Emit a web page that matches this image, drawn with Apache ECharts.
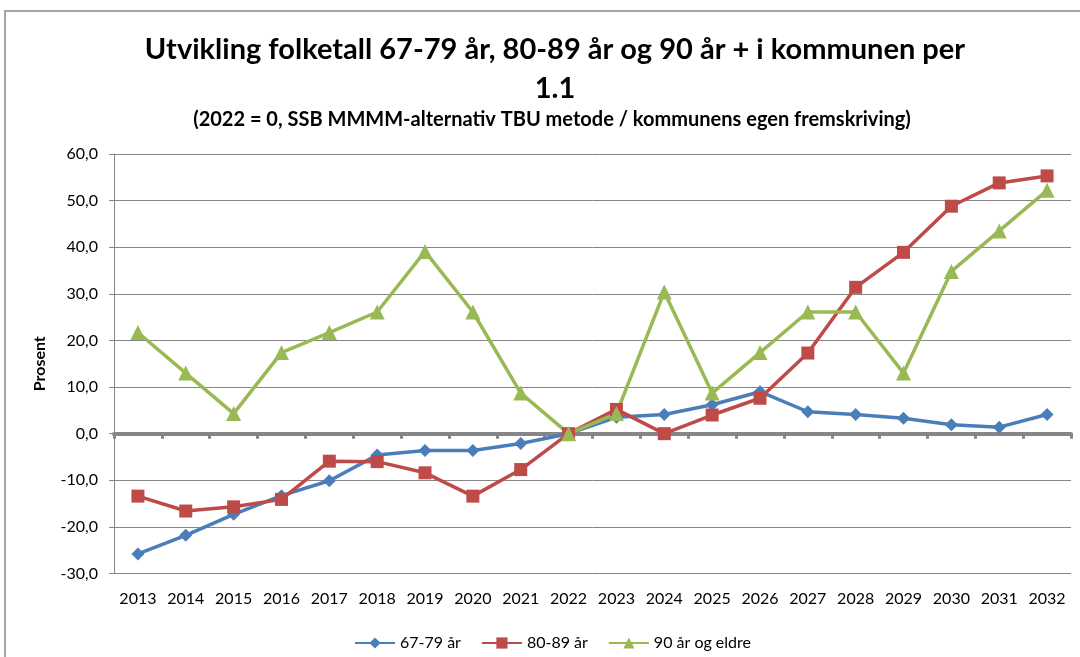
<!DOCTYPE html>
<html>
<head>
<meta charset="utf-8">
<script src="https://cdn.jsdelivr.net/npm/echarts@6/dist/echarts.min.js"></script>
<style>
  html, body { margin: 0; padding: 0; background: #fff; }
  #chart { width: 1080px; height: 657px; }
</style>
</head>
<body>
<div id="chart"></div>
<script>
  // aldersgrupper, endring i prosent (2022 = 0)
  const years = ['2013', '2014', '2015', '2016', '2017', '2018', '2019', '2020', '2021', '2022',
                 '2023', '2024', '2025', '2026', '2027', '2028', '2029', '2030', '2031', '2032']
  const age6779 = [-25.8, -21.8, -17.3, -13.3, -10.1, -4.6, -3.6, -3.6, -2.1, 0,
                   3.5, 4.1, 6.2, 9.0, 4.7, 4.1, 3.3, 1.9, 1.4, 4.1]
  const age8089 = [-13.4, -16.6, -15.7, -14.1, -5.9, -6.0, -8.4, -13.4, -7.7, 0,
                   5.2, 0, 4.0, 7.6, 17.3, 31.4, 38.9, 48.8, 53.8, 55.3]
  const age90 = [21.7, 13.0, 4.3, 17.4, 21.7, 26.1, 39.1, 26.1, 8.7, 0,
                 4.3, 30.4, 8.7, 17.4, 26.1, 26.1, 13.0, 34.8, 43.5, 52.2]

  const font = 'Lato, "Open Sans", sans-serif'
  const gray = '#868686'

  const lineSeries = (name, data, color, symbol, size) => ({
    name: name,
    type: 'line',
    data: data,
    symbol: symbol,
    symbolSize: size,
    color: color,
    lineStyle: { width: 3.5, color: color },
    itemStyle: { color: color },
    emphasis: { disabled: true },
    animation: false
  })

  const chart = echarts.init(document.getElementById('chart'))
  chart.setOption({
    textStyle: { fontFamily: font },
    graphic: [{
      type: 'rect',
      z: -10,
      shape: { x: 5, y: 11, width: 1200, height: 800 },
      style: { fill: 'none', stroke: '#a6a6a6', lineWidth: 2 }
    }],
    title: [
      {
        text: 'Utvikling folketall 67-79 år, 80-89 år og 90 år + i kommunen per\n1.1',
        left: 550, top: 25, textAlign: 'center',
        textStyle: { fontFamily: font, fontWeight: 'bold', fontSize: 29, lineHeight: 39, color: '#000' }
      },
      {
        text: '(2022 = 0, SSB MMMM-alternativ TBU metode / kommunens egen fremskriving)',
        left: 547, top: 105, textAlign: 'center',
        textStyle: { fontFamily: font, fontWeight: 'bold', fontSize: 20, color: '#000' }
      }
    ],
    legend: {
      left: 349, top: 630,
      itemWidth: 40, itemHeight: 14, itemGap: 20,
      textStyle: { fontFamily: font, fontSize: 16, color: '#000' },
      data: ['67-79 år', '80-89 år', '90 år og eldre']
    },
    grid: { left: 114, right: 9, top: 154, bottom: 83.5, containLabel: false },
    xAxis: [
      {
        type: 'category',
        data: years,
        boundaryGap: true,
        position: 'bottom',
        axisLine: { show: false, onZero: false },
        axisTick: { show: false },
        axisLabel: { interval: 0, hideOverlap: false, margin: 17, fontSize: 16, color: '#000', fontFamily: font }
      },
      {
        type: 'category',
        data: years,
        boundaryGap: true,
        position: 'bottom',
        axisLine: { show: true, onZero: true, lineStyle: { color: gray, width: 4 } },
        axisTick: { show: true, inside: false, interval: 0, length: 5, lineStyle: { color: gray, width: 3 } },
        axisLabel: { show: false }
      }
    ],
    yAxis: {
      type: 'value',
      min: -30, max: 60, interval: 10,
      name: 'Prosent',
      nameLocation: 'middle',
      nameGap: 66,
      nameRotate: 90,
      nameTextStyle: { fontFamily: font, fontWeight: 'bold', fontSize: 16, color: '#000' },
      axisLine: { show: true, lineStyle: { color: gray, width: 1 } },
      axisTick: { show: true, length: 5, lineStyle: { color: gray } },
      axisLabel: {
        margin: 16, fontSize: 16, color: '#000', fontFamily: font,
        formatter: v => v.toFixed(1).replace('.', ',')
      },
      splitLine: { show: true, lineStyle: { color: gray, width: 1 } }
    },
    series: [
      lineSeries('67-79 år', age6779, '#4a7ebb', 'diamond', 13),
      lineSeries('80-89 år', age8089, '#be4b48', 'rect', 13),
      lineSeries('90 år og eldre', age90, '#98b954', 'triangle', 15)
    ]
  })
</script>
</body>
</html>
